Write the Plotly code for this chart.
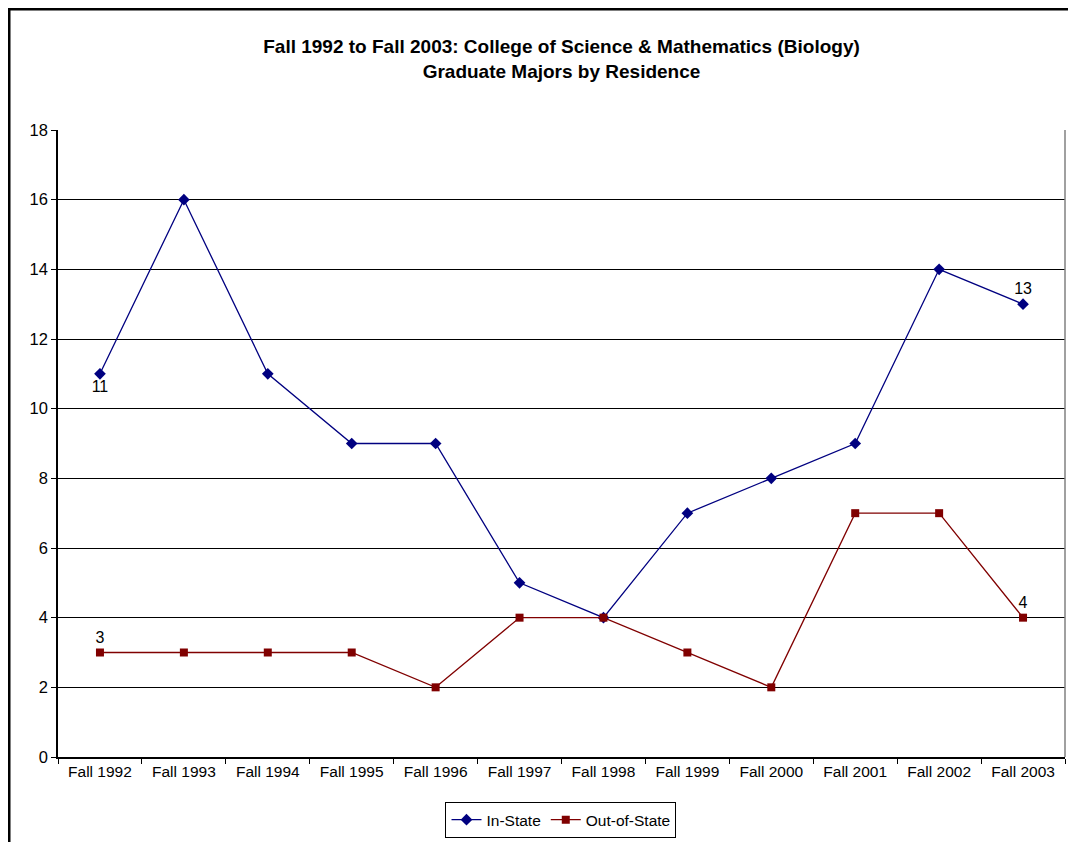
import plotly.graph_objects as go

years = ["Fall 1992", "Fall 1993", "Fall 1994", "Fall 1995", "Fall 1996", "Fall 1997",
         "Fall 1998", "Fall 1999", "Fall 2000", "Fall 2001", "Fall 2002", "Fall 2003"]
in_state = [11, 16, 11, 9, 9, 5, 4, 7, 8, 9, 14, 13]
out_of_state = [3, 3, 3, 3, 2, 4, 4, 3, 2, 7, 7, 4]

# only the first and last points carry a value label
def end_labels(vals):
    return [str(v) if i in (0, len(vals) - 1) else "" for i, v in enumerate(vals)]

fig = go.Figure()
fig.add_trace(go.Scatter(
    x=years, y=in_state, name="In-State", mode="lines+markers+text",
    line=dict(color="#000080", width=1.3),
    marker=dict(symbol="diamond", size=9, color="#000080"),
    text=end_labels(in_state),
    textposition=["bottom center"] + ["top center"] * 11,
    textfont=dict(family="Liberation Sans, Arial", size=16, color="black"),
))
fig.add_trace(go.Scatter(
    x=years, y=out_of_state, name="Out-of-State", mode="lines+markers+text",
    line=dict(color="#800000", width=1.3),
    marker=dict(symbol="square", size=8, color="#800000"),
    text=end_labels(out_of_state),
    textposition="top center",
    textfont=dict(family="Liberation Sans, Arial", size=16, color="black"),
))

# page body has an 8px margin, so the figure is sized to fit the window
fig.update_layout(
    width=1068, height=834,
    paper_bgcolor="white", plot_bgcolor="white",
    margin=dict(l=50, r=11, t=122, b=85, autoexpand=False),
    font=dict(family="Liberation Sans, Arial", size=15, color="black"),
    title=dict(
        text="<b>Fall 1992 to Fall 2003: College of Science & Mathematics (Biology)<br>Graduate Majors by Residence</b>",
        x=0.5, xanchor="center", xref="paper",
        yref="container", y=1 - 45 / 834, yanchor="top",
        font=dict(size=19, color="black"),
    ),
    legend=dict(
        orientation="h", x=0.4995, xanchor="center", y=-0.072, yanchor="top",
        bordercolor="black", borderwidth=1, font=dict(size=15.5),
        itemwidth=30, tracegroupgap=0,
    ),
    shapes=[
        dict(type="rect", xref="paper", yref="paper",
             x0=-49 / 1007, x1=1.05, y0=-0.2, y1=1 + 121 / 627,
             line=dict(color="black", width=3)),
        dict(type="line", xref="paper", yref="paper", x0=1, x1=1, y0=0, y1=1,
             line=dict(color="#808080", width=1.5)),
    ],
)
fig.update_xaxes(
    type="category", range=[-0.5, 11.5], tickson="boundaries",
    ticks="outside", ticklen=5, tickcolor="black", automargin=False,
    showline=True, linecolor="black", linewidth=1.5,
    showgrid=False, tickfont=dict(size=15.5),
)
fig.update_yaxes(
    range=[0, 18], dtick=2, ticks="outside", ticklen=5, tickcolor="black",
    showline=True, linecolor="black", linewidth=1.5, automargin=False,
    showgrid=True, gridcolor="black", gridwidth=1, zeroline=False,
    tickfont=dict(size=16.5),
)

fig.write_html("out.html")
